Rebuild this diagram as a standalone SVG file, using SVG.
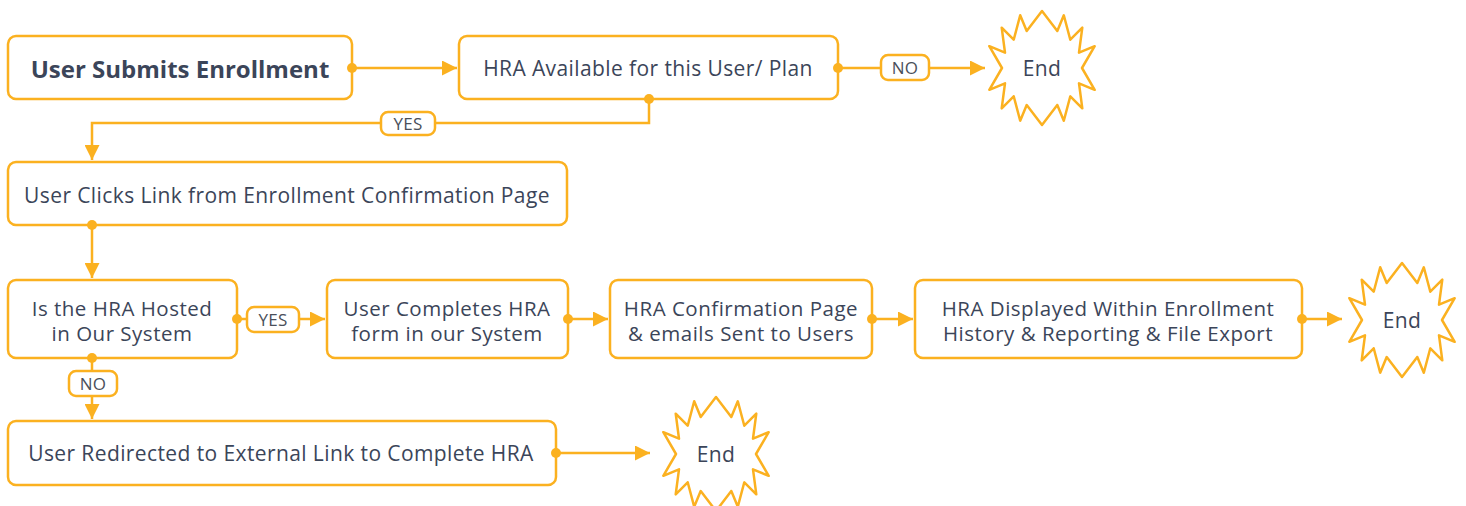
<svg xmlns="http://www.w3.org/2000/svg" width="1466" height="506" viewBox="0 0 1466 506">
<defs>
<style>
.box{fill:#fff;stroke:#FBB120;stroke-width:2.5}
.t{font-family:"Open Sans","Liberation Sans",sans-serif;font-size:21px;letter-spacing:0.4px;fill:#3B4559;text-anchor:middle}
.t2{font-family:"Open Sans","Liberation Sans",sans-serif;font-size:20.5px;letter-spacing:0.5px;fill:#3B4559;text-anchor:middle}
.tb{font-family:"Open Sans","Liberation Sans",sans-serif;font-size:24px;font-weight:bold;fill:#3B4559;text-anchor:middle}
.lbl{fill:#fff;stroke:#FBB120;stroke-width:2.5}
.lt{font-family:"Open Sans","Liberation Sans",sans-serif;font-size:17px;letter-spacing:0.3px;fill:#4A4F5A;text-anchor:middle}
.ln{fill:none;stroke:#FBB120;stroke-width:2.5}
.dot{fill:#FBB120}
.star{fill:#fff;stroke:#FBB120;stroke-width:2.5;stroke-linejoin:round}
</style>
<marker id="ah" viewBox="0 0 10 10" refX="10" refY="5" markerWidth="6.5" markerHeight="6" markerUnits="strokeWidth" orient="auto">
<path d="M0,0 L10,5 L0,10 z" fill="#FBB120"/>
</marker>
<polygon id="burst" points="0,-57 15.3,-37 21.8,-52.7 28.3,-28.3 40.3,-40.3 37,-15.3 52.7,-21.8 40,0 52.7,21.8 37,15.3 40.3,40.3 28.3,28.3 21.8,52.7 15.3,37 0,57 -15.3,37 -21.8,52.7 -28.3,28.3 -40.3,40.3 -37,15.3 -52.7,21.8 -40,0 -52.7,-21.8 -37,-15.3 -40.3,-40.3 -28.3,-28.3 -21.8,-52.7 -15.3,-37"/>
</defs>
<rect width="1466" height="506" fill="#fff"/>

<g id="n1"><rect class="box" x="8" y="36" width="344" height="63" rx="8"/><text class="tb" x="180" y="77.5">User Submits Enrollment</text></g>
<g id="n2"><rect class="box" x="459" y="36" width="379" height="63" rx="8"/><text class="t" x="648" y="76">HRA Available for this User/ Plan</text></g>
<g id="end1"><use href="#burst" class="star" x="1042" y="68"/><text class="t" x="1042" y="76">End</text></g>
<g id="n3"><rect class="box" x="8" y="162" width="559" height="63" rx="8"/><text class="t" x="287" y="203">User Clicks Link from Enrollment Confirmation Page</text></g>
<g id="n4"><rect class="box" x="8" y="280" width="229" height="78" rx="8"/><text class="t2" x="122" y="315.5">Is the HRA Hosted</text><text class="t2" x="122" y="340.5">in Our System</text></g>
<g id="n5"><rect class="box" x="327" y="280" width="241" height="78" rx="8"/><text class="t2" x="447" y="315.5">User Completes HRA</text><text class="t2" x="447" y="340.5">form in our System</text></g>
<g id="n6"><rect class="box" x="610" y="280" width="262" height="78" rx="8"/><text class="t2" x="741" y="315.5">HRA Confirmation Page</text><text class="t2" x="741" y="340.5">&amp; emails Sent to Users</text></g>
<g id="n7"><rect class="box" x="915" y="280" width="387" height="78" rx="8"/><text class="t2" x="1108" y="315.5">HRA Displayed Within Enrollment</text><text class="t2" x="1108" y="340.5">History &amp; Reporting &amp; File Export</text></g>
<g id="end2"><use href="#burst" class="star" x="1402" y="320"/><text class="t" x="1402" y="328">End</text></g>
<g id="n8"><rect class="box" x="8" y="421" width="548" height="64" rx="8"/><text class="t" x="281" y="461">User Redirected to External Link to Complete HRA</text></g>
<g id="end3"><use href="#burst" class="star" x="716" y="454"/><text class="t" x="716" y="462">End</text></g>

<g id="connectors">
<path class="ln" d="M352,68 H457" marker-end="url(#ah)"/>
<path class="ln" d="M838,68 H985" marker-end="url(#ah)"/>
<path class="ln" d="M649,99 V123 H92 V160" marker-end="url(#ah)"/>
<path class="ln" d="M92,225 V278" marker-end="url(#ah)"/>
<path class="ln" d="M237,319 H325" marker-end="url(#ah)"/>
<path class="ln" d="M568,319 H608" marker-end="url(#ah)"/>
<path class="ln" d="M872,319 H913" marker-end="url(#ah)"/>
<path class="ln" d="M1302,319 H1342" marker-end="url(#ah)"/>
<path class="ln" d="M92,358 V419" marker-end="url(#ah)"/>
<path class="ln" d="M556,453 H650" marker-end="url(#ah)"/>
<circle class="dot" cx="352" cy="68" r="5"/>
<circle class="dot" cx="838" cy="68" r="5"/>
<circle class="dot" cx="649" cy="99" r="5"/>
<circle class="dot" cx="92" cy="225" r="5"/>
<circle class="dot" cx="237" cy="319" r="5"/>
<circle class="dot" cx="568" cy="319" r="5"/>
<circle class="dot" cx="872" cy="319" r="5"/>
<circle class="dot" cx="1302" cy="319" r="5"/>
<circle class="dot" cx="92" cy="358" r="5"/>
<circle class="dot" cx="556" cy="453" r="5"/>
<g id="lbl-no1"><rect class="lbl" x="881" y="55" width="48" height="25" rx="7"/><text class="lt" x="905" y="73.5">NO</text></g>
<g id="lbl-yes1"><rect class="lbl" x="381" y="112" width="54" height="23" rx="7"/><text class="lt" x="408" y="129.5">YES</text></g>
<g id="lbl-yes2"><rect class="lbl" x="247" y="307" width="52" height="25" rx="7"/><text class="lt" x="273" y="325.5">YES</text></g>
<g id="lbl-no2"><rect class="lbl" x="69" y="371" width="48" height="25" rx="7"/><text class="lt" x="93" y="389.5">NO</text></g>
</g>
</svg>
